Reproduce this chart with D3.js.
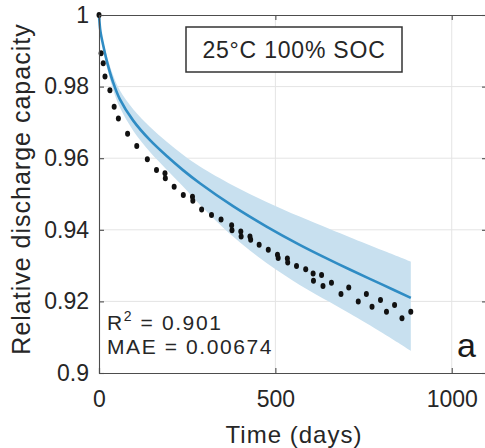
<!DOCTYPE html>
<html>
<head>
<meta charset="utf-8">
<script src="https://cdn.jsdelivr.net/npm/d3@7"></script>
<style>
  body { margin: 0; background: #fff; }
  svg { display: block; font-family: "Liberation Sans", Arial, sans-serif; }
</style>
</head>
<body>
<svg id="chart" width="485" height="448"></svg>
<script>
// measured capacity
const obsDays = [0, 6, 12, 17, 31, 43, 55, 81, 107, 137, 163, 187, 188, 213, 239, 265, 266,
  291, 319, 346, 376, 377, 402, 403, 428, 430, 454, 480, 506, 508, 534, 535, 560, 586,
  607, 608, 631, 635, 659, 686, 708, 735, 758, 774, 798, 815, 838, 859, 884];
const obsCapacity = [1.0, 0.9893, 0.9865, 0.9828, 0.979, 0.9744, 0.9711, 0.9668, 0.9634, 0.9597,
  0.9567, 0.9558, 0.9544, 0.952, 0.9497, 0.9492, 0.9481, 0.9457, 0.9441, 0.9429, 0.9413,
  0.9399, 0.9395, 0.9381, 0.9381, 0.9372, 0.9358, 0.9344, 0.933, 0.9321, 0.932, 0.9309,
  0.9299, 0.929, 0.9278, 0.9258, 0.9274, 0.9243, 0.9252, 0.9221, 0.9239, 0.92, 0.9221,
  0.9185, 0.9204, 0.9171, 0.919, 0.9153, 0.9171];

// model prediction with confidence band
const fitDays = [0, 4, 12, 22, 40, 59, 97, 144, 192, 239, 286, 380, 475, 569, 654, 711, 805, 884];
const fitCapacity = [1.0, 0.9955, 0.9915, 0.9872, 0.9812, 0.9765, 0.9705, 0.9651, 0.9606, 0.9566,
  0.953, 0.9466, 0.9409, 0.9358, 0.9316, 0.9289, 0.9246, 0.921];
const fitUpper = [1.0, 0.996, 0.9925, 0.9887, 0.9832, 0.979, 0.9737, 0.9688, 0.9646, 0.9609,
  0.9577, 0.9524, 0.9478, 0.9437, 0.9402, 0.9379, 0.9342, 0.9311];
const fitLower = [1.0, 0.995, 0.9905, 0.9857, 0.9792, 0.9742, 0.9677, 0.9618, 0.9568, 0.952,
  0.947, 0.9381, 0.9307, 0.9246, 0.9198, 0.9166, 0.9111, 0.9062];

const xTicks = [0, 500, 1000];
const yTicks = [0.9, 0.92, 0.94, 0.96, 0.98, 1];

const marginLeft = 99, marginTop = 15, marginBottom = 75, plotRight = 487;
const width = 485, height = 448;
const textColor = '#262626';

const svg = d3.select('#chart');

const xScale = d3.scaleLinear().domain([0, 1100]).range([marginLeft, plotRight]);
const yScale = d3.scaleLinear().domain([0.9, 1]).range([height - marginBottom, marginTop]);

// grid
const grid = svg.append('g').attr('class', 'grid');
grid.selectAll('line.gx')
  .data(xTicks.slice(1))
  .enter().append('line')
  .attr('x1', d => xScale(d)).attr('x2', d => xScale(d))
  .attr('y1', marginTop).attr('y2', height - marginBottom)
  .attr('stroke', '#e4e4e4').attr('stroke-width', 1);
grid.selectAll('line.gy')
  .data(yTicks.slice(1, -1))
  .enter().append('line')
  .attr('x1', marginLeft).attr('x2', plotRight)
  .attr('y1', d => yScale(d)).attr('y2', d => yScale(d))
  .attr('stroke', '#e4e4e4').attr('stroke-width', 1);

// confidence band
const band = d3.area()
  .x((d, i) => xScale(fitDays[i]))
  .y0((d, i) => yScale(fitLower[i]))
  .y1((d, i) => yScale(fitUpper[i]))
  .curve(d3.curveCatmullRom.alpha(0.5));
svg.append('path')
  .datum(fitDays)
  .attr('d', band)
  .attr('fill', '#c8e0ef');

// fitted line
const line = d3.line()
  .x((d, i) => xScale(fitDays[i]))
  .y((d, i) => yScale(fitCapacity[i]))
  .curve(d3.curveCatmullRom.alpha(0.5));
svg.append('path')
  .datum(fitDays)
  .attr('d', line)
  .attr('fill', 'none')
  .attr('stroke', '#2f8cc4')
  .attr('stroke-width', 2.6);

// measurements
svg.append('g').selectAll('ellipse')
  .data(obsDays)
  .enter().append('ellipse')
  .attr('cx', d => xScale(d))
  .attr('cy', (d, i) => yScale(obsCapacity[i]))
  .attr('rx', 2.5).attr('ry', 3)
  .attr('fill', '#111');

// axes: full box, inward ticks
const xAxis = d3.axisBottom(xScale).tickValues(xTicks).tickSize(-5).tickPadding(18).tickFormat(d3.format('d'));
const yAxis = d3.axisLeft(yScale).tickValues(yTicks).tickSize(-5).tickPadding(10)
  .tickFormat(d => (d === 1 || d === 0.9) ? String(d) : d.toFixed(2));

svg.append('g')
  .attr('class', 'x-axis')
  .attr('transform', `translate(0, ${height - marginBottom})`)
  .call(xAxis);
svg.append('g')
  .attr('class', 'y-axis')
  .attr('transform', `translate(${marginLeft}, 0)`)
  .call(yAxis);
svg.append('g')
  .attr('transform', `translate(0, ${marginTop})`)
  .call(d3.axisTop(xScale).tickValues(xTicks).tickSize(-5).tickFormat(''));
svg.append('g')
  .attr('transform', `translate(${plotRight}, 0)`)
  .call(d3.axisRight(yScale).tickValues(yTicks).tickSize(-5).tickFormat(''));

svg.selectAll('.domain, .tick line').attr('stroke', '#4d4d4d').attr('stroke-width', 1.1);
svg.selectAll('.tick text')
  .attr('fill', textColor)
  .style('font-size', '23px')
  .style('font-family', '"Liberation Sans", Arial, sans-serif');

// axis labels
svg.append('text')
  .attr('x', 294)
  .attr('y', 443)
  .attr('text-anchor', 'middle')
  .attr('fill', textColor)
  .style('font-size', '24px')
  .style('letter-spacing', '1px')
  .text('Time (days)');
svg.append('text')
  .attr('transform', 'translate(30, 189) rotate(-90)')
  .attr('text-anchor', 'middle')
  .attr('fill', textColor)
  .style('font-size', '25px')
  .style('letter-spacing', '1px')
  .text('Relative discharge capacity');

// condition label box
svg.append('rect')
  .attr('x', 186).attr('y', 27)
  .attr('width', 216).attr('height', 45)
  .attr('fill', '#fff')
  .attr('stroke', '#333')
  .attr('stroke-width', 1.5);
svg.append('text')
  .attr('x', 294).attr('y', 58)
  .attr('text-anchor', 'middle')
  .attr('fill', textColor)
  .style('font-size', '23px')
  .style('letter-spacing', '0.8px')
  .text('25°C 100% SOC');

// statistics
const stats = svg.append('text')
  .attr('x', 107).attr('y', 330)
  .attr('fill', textColor)
  .style('font-size', '21px')
  .style('letter-spacing', '1.6px');
stats.append('tspan').text('R');
stats.append('tspan').attr('dy', -9).style('font-size', '14px').text('2');
stats.append('tspan').attr('dy', 9).text(' = 0.901');
svg.append('text')
  .attr('x', 107).attr('y', 354)
  .attr('fill', textColor)
  .style('font-size', '21px')
  .style('letter-spacing', '1.6px')
  .text('MAE = 0.00674');

svg.append('text')
  .attr('x', 457).attr('y', 357)
  .attr('fill', '#1a1a1a')
  .style('font-size', '34px')
  .text('a');
</script>
</body>
</html>
